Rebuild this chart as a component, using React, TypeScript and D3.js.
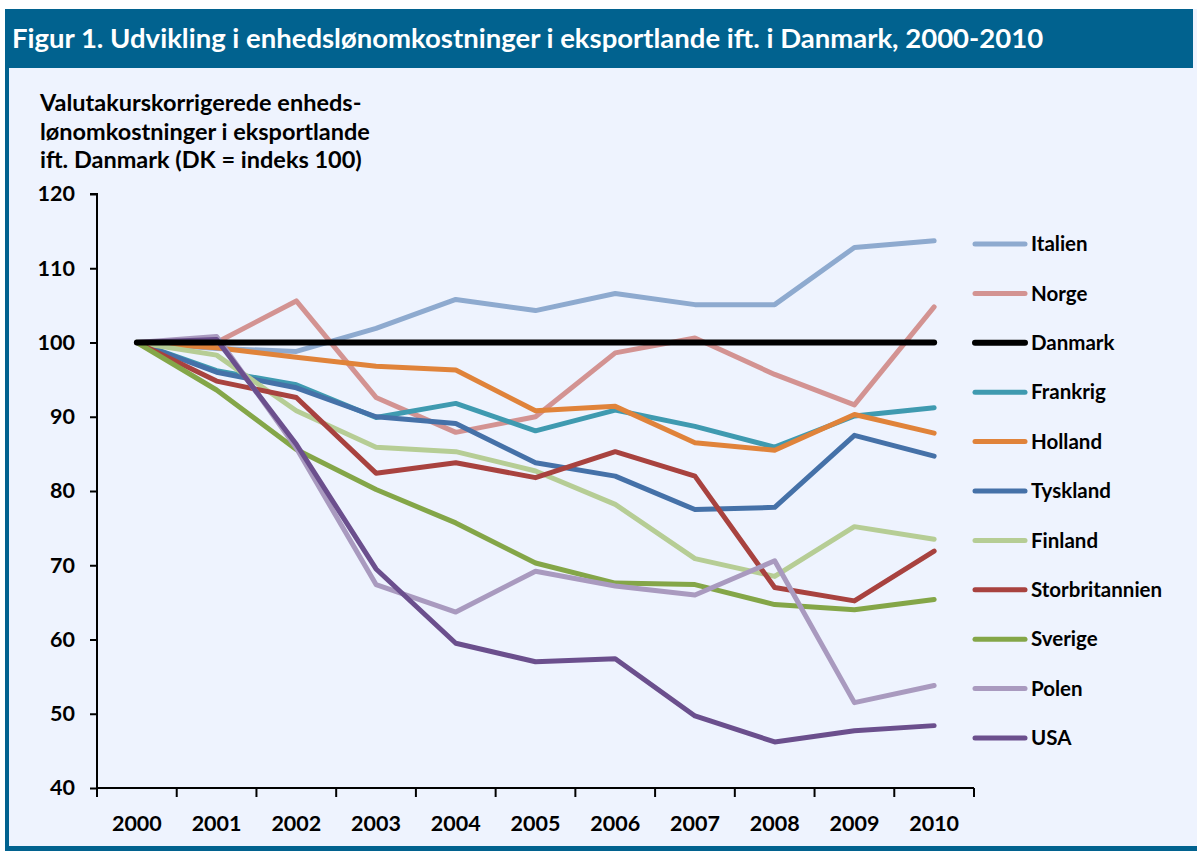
import React, { useEffect, useRef } from 'react';
import * as d3 from 'd3';

const years = ['2000', '2001', '2002', '2003', '2004', '2005', '2006', '2007', '2008', '2009', '2010'];
const yTicks = [40, 50, 60, 70, 80, 90, 100, 110, 120];

const italien = [100, 99.2, 98.8, 101.9, 105.8, 104.3, 106.6, 105.1, 105.1, 112.8, 113.7];
const norge = [100, 100, 105.6, 92.6, 87.9, 90.0, 98.6, 100.6, 95.7, 91.6, 104.8];
const danmark = [100, 100, 100, 100, 100, 100, 100, 100, 100, 100, 100];
const frankrig = [100, 96.2, 94.3, 89.9, 91.8, 88.1, 90.9, 88.7, 85.9, 90.1, 91.2];
const holland = [100, 99.3, 98.0, 96.8, 96.3, 90.8, 91.4, 86.5, 85.5, 90.3, 87.8];
const tyskland = [100, 96.0, 93.9, 90.0, 89.1, 83.8, 82.0, 77.5, 77.8, 87.5, 84.7];
const finland = [100, 98.3, 90.8, 85.9, 85.3, 82.7, 78.2, 70.9, 68.5, 75.2, 73.5];
const storbritannien = [100, 94.8, 92.6, 82.4, 83.8, 81.8, 85.3, 82.0, 67.0, 65.2, 71.9];
const sverige = [100, 93.6, 85.6, 80.2, 75.7, 70.3, 67.6, 67.4, 64.7, 64.0, 65.4];
const polen = [100, 100.8, 85.8, 67.4, 63.7, 69.2, 67.2, 66.0, 70.6, 51.5, 53.8];
const usa = [100, 100.4, 86.3, 69.5, 59.5, 57.0, 57.4, 49.7, 46.2, 47.7, 48.4];

const seriesNames = ['Italien', 'Norge', 'Danmark', 'Frankrig', 'Holland', 'Tyskland', 'Finland', 'Storbritannien', 'Sverige', 'Polen', 'USA'];
const seriesValues = [italien, norge, danmark, frankrig, holland, tyskland, finland, storbritannien, sverige, polen, usa];
const seriesColors = ['#8eaacf', '#d39392', '#000000', '#3f9ab0', '#e0833a', '#4571a8', '#b6cd95', '#a8423f', '#84a648', '#a99abf', '#6b4f8d'];
// drawing order (bottom to top), roughly as in the original
const drawOrder = [0, 1, 3, 4, 5, 6, 7, 8, 9, 10, 2];

const title = 'Figur 1. Udvikling i enhedslønomkostninger i eksportlande ift. i Danmark, 2000-2010';
const yTitle = ['Valutakurskorrigerede enheds-', 'lønomkostninger i eksportlande', 'ift. Danmark (DK = indeks 100)'];

const FONT = 'Lato, "Open Sans", sans-serif';

const App: React.FC = () => {
  const ref = useRef<SVGSVGElement>(null);

  useEffect(() => {
    if (!ref.current) return;
    const svg = d3.select(ref.current);
    svg.selectAll('*').remove();

    const W = 1197;
    const H = 851;
    const blue = '#01628f';

    // frame
    svg.append('rect').attr('x', 5).attr('y', 9).attr('width', W - 5).attr('height', H - 9).attr('fill', '#eef3fe');
    svg.append('rect').attr('x', 5).attr('y', 9).attr('width', 4).attr('height', H - 9).attr('fill', blue);
    svg.append('rect').attr('x', 5).attr('y', 846).attr('width', W - 5).attr('height', 5).attr('fill', blue);
    svg.append('rect').attr('x', 5).attr('y', 9).attr('width', 1188).attr('height', 59).attr('fill', blue);

    svg.append('text')
      .attr('x', 12).attr('y', 48)
      .attr('fill', '#fff')
      .style('font-family', FONT)
      .style('font-size', '27.5px')
      .style('font-weight', 'bold')
      .text(title);

    yTitle.forEach((t, i) => {
      svg.append('text')
        .attr('x', 40).attr('y', 111 + i * 28.5)
        .attr('fill', '#000')
        .style('font-family', FONT)
        .style('font-size', '23.5px')
        .style('font-weight', 'bold')
        .text(t);
    });

    const left = 97;
    const right = 974;
    const top = 194;
    const bottom = 788;

    const x = d3.scaleBand().domain(years).range([left, right]).padding(0);
    const xc = (i: number) => (x(years[i]) || 0) + x.bandwidth() / 2;
    const y = d3.scaleLinear().domain([40, 120]).range([bottom, top]);

    // y axis
    const yAxis = svg.append('g')
      .attr('transform', `translate(${left},0)`)
      .call(d3.axisLeft(y).tickValues(yTicks).tickSize(7).tickPadding(15).tickFormat(d3.format('d')));
    yAxis.select('.domain').attr('stroke', '#000').attr('stroke-width', 2).attr('d', `M-7,${top}H0V${bottom}`);
    yAxis.selectAll('.tick line').attr('stroke', '#000').attr('stroke-width', 2);
    yAxis.selectAll('.tick text')
      .style('font-family', FONT)
      .style('font-size', '21.5px')
      .style('font-weight', 'bold')
      .attr('fill', '#000');

    // x axis
    const xAxis = svg.append('g')
      .attr('transform', `translate(0,${bottom})`)
      .call(d3.axisBottom(x).tickSize(0).tickPadding(28));
    xAxis.select('.domain').attr('stroke', '#000').attr('stroke-width', 2).attr('d', `M${left},0H${right}`);
    xAxis.selectAll('.tick text')
      .style('font-family', FONT)
      .style('font-size', '21.5px')
      .style('font-weight', 'bold')
      .attr('fill', '#000');
    const bounds = years.map(yr => x(yr) || 0).concat([right]);
    xAxis.selectAll('.bound')
      .data(bounds)
      .enter().append('line')
      .attr('x1', d => d).attr('x2', d => d)
      .attr('y1', 0).attr('y2', 9)
      .attr('stroke', '#000').attr('stroke-width', 2);

    // lines
    const line = d3.line<number>()
      .x((_, i) => xc(i))
      .y(d => y(d));

    svg.append('g')
      .selectAll('path')
      .data(drawOrder)
      .enter().append('path')
      .attr('d', d => line(seriesValues[d]))
      .attr('fill', 'none')
      .attr('stroke', d => seriesColors[d])
      .attr('stroke-width', d => (d === 2 ? 6 : 5))
      .attr('stroke-linejoin', 'round')
      .attr('stroke-linecap', 'round');

    // legend
    const lg = svg.append('g');
    seriesNames.forEach((name, i) => {
      const ly = 244 + i * 49.4;
      lg.append('line')
        .attr('x1', 975).attr('x2', 1025)
        .attr('y1', ly).attr('y2', ly)
        .attr('stroke', seriesColors[i])
        .attr('stroke-width', i === 2 ? 6 : 5)
        .attr('stroke-linecap', 'round');
      lg.append('text')
        .attr('x', 1031).attr('y', ly)
        .attr('dy', '0.35em')
        .attr('fill', '#000')
        .style('font-family', FONT)
        .style('font-size', '20.5px')
        .style('font-weight', 'bold')
        .text(name);
    });
  }, []);

  return (
    <svg
      ref={ref}
      width={1197}
      height={851}
      style={{ position: 'absolute', left: 0, top: 0, background: '#fff' }}
    />
  );
};

export default App;
